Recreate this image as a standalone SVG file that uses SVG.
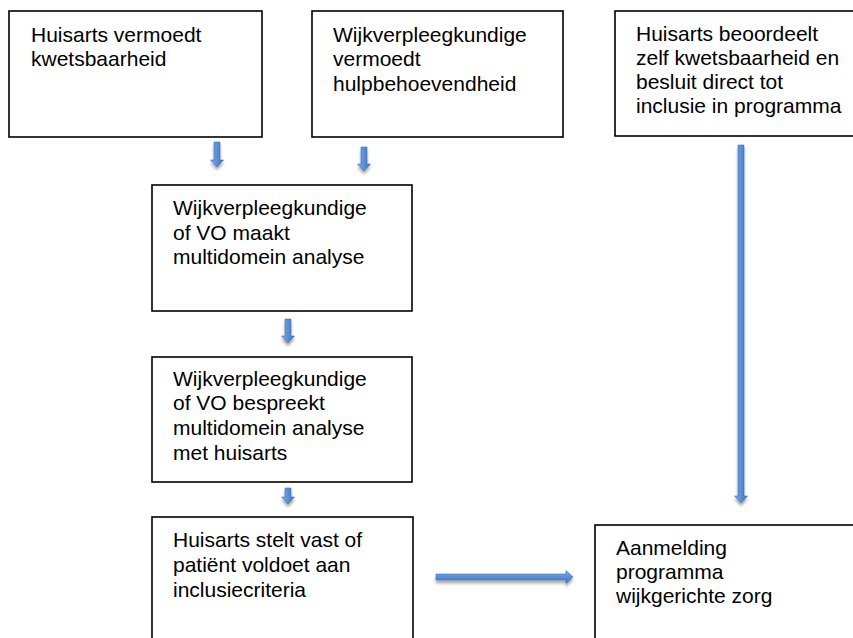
<svg xmlns="http://www.w3.org/2000/svg" width="853" height="638" viewBox="0 0 853 638">
<style>
.box{fill:#fff;stroke:#000;stroke-width:1.6}
.t{font-family:"Liberation Sans",Arial,sans-serif;font-size:21px;fill:#000}
.arr{fill:url(#gv);stroke:#3f72b5;stroke-width:0.6;filter:url(#sh)}
.arrh{fill:url(#gh);stroke:#3f72b5;stroke-width:0.6;filter:url(#sh)}
</style>
<defs>
<linearGradient id="gv" x1="0" y1="0" x2="1" y2="0">
<stop offset="0" stop-color="#7eaae3"/><stop offset="0.5" stop-color="#5b8fd6"/><stop offset="1" stop-color="#3c6fb8"/>
</linearGradient>
<linearGradient id="gh" x1="0" y1="0" x2="0" y2="1">
<stop offset="0" stop-color="#7eaae3"/><stop offset="0.5" stop-color="#5b8fd6"/><stop offset="1" stop-color="#3c6fb8"/>
</linearGradient>
<filter id="sh" x="-50%" y="-20%" width="200%" height="150%">
<feGaussianBlur in="SourceAlpha" stdDeviation="1.8"/>
<feOffset dx="0" dy="2.5" result="b"/>
<feComponentTransfer><feFuncA type="linear" slope="0.35"/></feComponentTransfer>
<feMerge><feMergeNode/><feMergeNode in="SourceGraphic"/></feMerge>
</filter>
</defs>
<rect width="853" height="638" fill="#fff"/>
<g id="connectors">
<path class="arr" d="M214,142 H220 V160 H223.5 L217,167 L210.5,160 H214 Z"/>
<path class="arr" d="M361,147 H367 V164 H370.5 L364,171 L357.5,164 H361 Z"/>
<path class="arr" d="M285,319 H291 V336 H294.5 L288,343 L281.5,336 H285 Z"/>
<path class="arr" d="M285,488 H291 V497 H294.5 L288,504 L281.5,497 H285 Z"/>
<path class="arr" d="M738,145 H744 V496 H747.5 L741,503 L734.5,496 H738 Z"/>
<path class="arrh" d="M436,574 H566 V570.5 L573,577 L566,583.5 V580 H436 Z"/>
</g>
<g id="n1">
<rect class="box" x="9" y="11" width="253" height="126"/>
<text class="t" x="31" y="42">Huisarts vermoedt<tspan x="31" y="66">kwetsbaarheid</tspan></text>
</g>
<g id="n2">
<rect class="box" x="312" y="11" width="251" height="126"/>
<text class="t" x="333" y="42">Wijkverpleegkundige<tspan x="333" y="66">vermoedt</tspan><tspan x="333" y="91">hulpbehoevendheid</tspan></text>
</g>
<g id="n3">
<rect class="box" x="615" y="11" width="260" height="125"/>
<text class="t" x="636" y="41">Huisarts beoordeelt<tspan x="636" y="65">zelf kwetsbaarheid en</tspan><tspan x="636" y="89">besluit direct tot</tspan><tspan x="636" y="113">inclusie in programma</tspan></text>
</g>
<g id="n4">
<rect class="box" x="152" y="185" width="260" height="126"/>
<text class="t" x="173" y="215">Wijkverpleegkundige<tspan x="173" y="240">of VO maakt</tspan><tspan x="173" y="264">multidomein analyse</tspan></text>
</g>
<g id="n5">
<rect class="box" x="152" y="357" width="260" height="125"/>
<text class="t" x="173" y="386">Wijkverpleegkundige<tspan x="173" y="410">of VO bespreekt</tspan><tspan x="173" y="435">multidomein analyse</tspan><tspan x="173" y="460">met huisarts</tspan></text>
</g>
<g id="n6">
<rect class="box" x="152" y="517" width="261" height="140"/>
<text class="t" x="173" y="547">Huisarts stelt vast of<tspan x="173" y="572">patiënt voldoet aan</tspan><tspan x="173" y="597">inclusiecriteria</tspan></text>
</g>
<g id="n7">
<rect class="box" x="595" y="525" width="280" height="140"/>
<text class="t" x="616" y="555">Aanmelding<tspan x="616" y="579">programma</tspan><tspan x="616" y="603">wijkgerichte zorg</tspan></text>
</g>
</svg>
